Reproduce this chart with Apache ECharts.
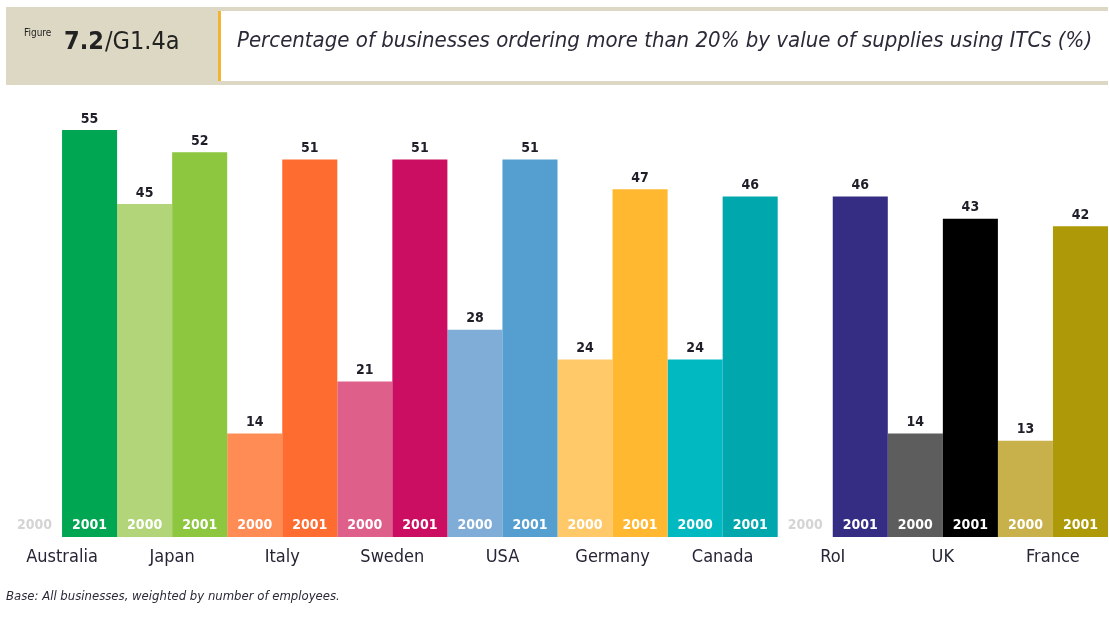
<!DOCTYPE html>
<html>
<head>
<meta charset="utf-8">
<script src="https://cdn.jsdelivr.net/npm/echarts@6/dist/echarts.min.js"></script>
<style>
  html, body { margin: 0; padding: 0; background: #fff; }
  #container { width: 1109px; height: 619px; }
</style>
</head>
<body>
<div id="container"></div>
<script>
// data
const countries = ["Australia", "Japan", "Italy", "Sweden", "USA", "Germany", "Canada", "RoI", "UK", "France"];
const values2000 = [null, 45, 14, 21, 28, 24, 24, null, 14, 13];
const values2001 = [55, 52, 51, 51, 51, 47, 46, 46, 43, 42];
const colors2000 = ["#ffffff", "#b3d57a", "#ff8c55", "#de5f8a", "#80acd8", "#ffc96a", "#00b9c1", "#ffffff", "#5d5d5d", "#c8b14b"];
const colors2001 = ["#00a651", "#8dc63f", "#ff6c2f", "#cc0e63", "#559ed0", "#ffb830", "#00a7ad", "#352d84", "#000000", "#ae9a08"];
const yearLabels = ["2000", "2001"];

const font = '"Liberation Sans Narrow", "DejaVu Sans Condensed", "Liberation Sans", sans-serif';

// one label per bar on a second axis, grey when the 2000 bar is missing
const barYears = [];
const barYearColors = [];
countries.forEach((c, i) => {
  barYears.push(yearLabels[0], yearLabels[1]);
  barYearColors.push(values2000[i] == null ? "#d4d4d4" : "#ffffff", "#ffffff");
});

const dom = document.getElementById("container");
const myChart = echarts.init(dom, null, { renderer: "canvas" });

const valueLabel = {
  show: true,
  position: "top",
  distance: 4,
  color: "#1e1e28",
  fontSize: 14,
  fontWeight: "bold",
  fontFamily: font
};

const option = {
  animation: false,
  grid: { left: 7, right: 1, top: 93, bottom: 82 },
  xAxis: [
    {
      type: "category",
      data: countries,
      axisLine: { show: false },
      axisTick: { show: false },
      axisLabel: {
        margin: 11,
        color: "#252535",
        fontSize: 18,
        fontFamily: font
      }
    },
    {
      type: "category",
      data: barYears,
      position: "bottom",
      z: 10,
      axisLine: { show: false },
      axisTick: { show: false },
      axisLabel: {
        inside: true,
        interval: 0,
        margin: 5,
        fontSize: 14,
        fontWeight: "bold",
        fontFamily: font,
        color: (v, i) => barYearColors[i]
      }
    }
  ],
  yAxis: {
    type: "value",
    min: 0,
    max: 60,
    show: false
  },
  series: [
    {
      name: "2000",
      type: "bar",
      barGap: "0%",
      barCategoryGap: "0%",
      data: values2000.map((v, i) => ({ value: v, itemStyle: { color: colors2000[i] } })),
      label: valueLabel
    },
    {
      name: "2001",
      type: "bar",
      barGap: "0%",
      barCategoryGap: "0%",
      data: values2001.map((v, i) => ({ value: v, itemStyle: { color: colors2001[i] } })),
      label: valueLabel
    }
  ],
  graphic: [
    // header band
    { type: "rect", shape: { x: 6, y: 7, width: 1102, height: 78 }, style: { fill: "#ddd8c3" }, z: 0 },
    { type: "rect", shape: { x: 220, y: 11, width: 888, height: 70 }, style: { fill: "#ffffff" }, z: 1 },
    { type: "rect", shape: { x: 218, y: 11, width: 3, height: 70 }, style: { fill: "#f5b335" }, z: 2 },
    {
      type: "text", left: 24, top: 28, z: 3,
      style: { text: "Figure", fontSize: 10, fill: "#222", fontFamily: font }
    },
    {
      type: "text", left: 64, top: 30, z: 3,
      style: { text: "7.2", fontSize: 25, fontWeight: "bold", fill: "#222", fontFamily: font }
    },
    {
      type: "text", left: 105, top: 30, z: 3,
      style: { text: "/G1.4a", fontSize: 25, fill: "#222", fontFamily: font }
    },
    {
      type: "text", left: 237, top: 30, z: 3,
      style: {
        text: "Percentage of businesses ordering more than 20% by value of supplies using ITCs (%)",
        fontSize: 22, fontStyle: "italic", fill: "#2a2a38", fontFamily: font
      }
    },
    // footnote
    {
      type: "text", left: 6, top: 590,
      style: {
        text: "Base: All businesses, weighted by number of employees.",
        fontSize: 13, fontStyle: "italic", fill: "#2a2a38", fontFamily: font
      }
    }
  ]
};

myChart.setOption(option);
window.addEventListener("resize", myChart.resize);
</script>
</body>
</html>
